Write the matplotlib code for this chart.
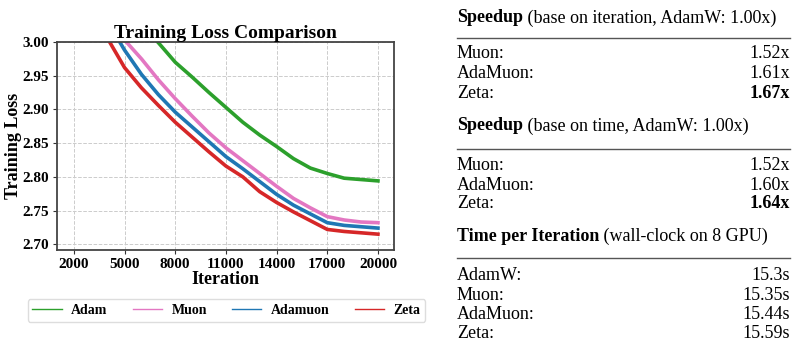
import matplotlib
matplotlib.use("Agg")
import matplotlib.pyplot as plt

plt.rcParams['font.family'] = ['Liberation Serif', 'DejaVu Serif']

# loss curves, one value per 1000 iterations
iters = [1000, 2000, 3000, 4000, 5000, 6000, 7000, 8000, 9000, 10000,
         11000, 12000, 13000, 14000, 15000, 16000, 17000, 18000, 19000, 20000]
adam_loss = [3.45, 3.27, 3.18, 3.11, 3.06, 3.025, 2.999, 2.970, 2.948, 2.925,
             2.903, 2.881, 2.862, 2.845, 2.827, 2.813, 2.805, 2.798, 2.796, 2.794]
muon_loss = [3.38, 3.20, 3.11, 3.05, 3.003, 2.975, 2.944, 2.916, 2.890, 2.865,
             2.843, 2.824, 2.805, 2.786, 2.768, 2.754, 2.741, 2.736, 2.733, 2.732]
adamuon_loss = [3.36, 3.18, 3.09, 3.03, 2.988, 2.952, 2.922, 2.896, 2.874, 2.852,
                2.830, 2.812, 2.793, 2.774, 2.758, 2.745, 2.732, 2.728, 2.726, 2.724]
zeta_loss = [3.35, 3.16, 3.07, 3.005, 2.962, 2.932, 2.906, 2.881, 2.859, 2.837,
             2.816, 2.800, 2.778, 2.762, 2.748, 2.735, 2.722, 2.719, 2.717, 2.715]

series_names = ['Adam', 'Muon', 'Adamuon', 'Zeta']
series_colors = ['#2ca02c', '#e377c2', '#1f77b4', '#d62728']
x_ticks = [2000, 5000, 8000, 11000, 14000, 17000, 20000]
y_ticks = [2.70, 2.75, 2.80, 2.85, 2.90, 2.95, 3.00]

# side table
sections = [
    ('Speedup', ' (base on iteration, AdamW: 1.00x)',
     ['Muon:', 'AdaMuon:', 'Zeta:'], ['1.52x', '1.61x', '1.67x'], True),
    ('Speedup', ' (base on time, AdamW: 1.00x)',
     ['Muon:', 'AdaMuon:', 'Zeta:'], ['1.52x', '1.60x', '1.64x'], True),
    ('Time per Iteration', ' (wall-clock on 8 GPU)',
     ['AdamW:', 'Muon:', 'AdaMuon:', 'Zeta:'], ['15.3s', '15.35s', '15.44s', '15.59s'], False),
]

W, H = 797, 347
fig = plt.figure(figsize=(W / 100, H / 100), dpi=100)
ax = fig.add_axes([57 / W, 1 - 250 / H, 337 / W, 208 / H])

all_losses = [adam_loss, muon_loss, adamuon_loss, zeta_loss]
for name, col, loss in zip(series_names, series_colors, all_losses):
    ax.plot(iters, loss, color=col, lw=2.6, label=name)

ax.set_xlim(1000, 20950)
ax.set_ylim(2.6915, 3.0)
ax.set_xticks(x_ticks)
ax.set_yticks(y_ticks)
ax.set_yticklabels(['%.2f' % v for v in y_ticks])
ax.tick_params(labelsize=11, length=3, pad=3, color='#333333')
for lab in ax.get_xticklabels() + ax.get_yticklabels():
    lab.set_fontweight('bold')
ax.grid(True, linestyle='--', color='#cccccc', lw=0.7)
for sp in ax.spines.values():
    sp.set_color('#444444')
    sp.set_linewidth(1.3)
ax.set_title('Training Loss Comparison', fontsize=14, fontweight='bold', pad=1)
ax.set_xlabel('Iteration', fontsize=13, fontweight='bold', labelpad=0)
ax.set_ylabel('Training Loss', fontsize=13, fontweight='bold')
ax.yaxis.set_label_coords((22 - 57) / 337, 0.5)

leg = fig.legend(*ax.get_legend_handles_labels(), loc='center',
                 bbox_to_anchor=(226.5 / W, 1 - 310.5 / H),
                 ncol=4, prop={'weight': 'bold', 'size': 10},
                 handlelength=2.1, handletextpad=0.7, columnspacing=1.8,
                 borderpad=0.35, fancybox=True, framealpha=1, edgecolor='#dddddd')
for line in leg.get_lines():
    line.set_linewidth(1.0)


def fx(px):
    return px / W


def fy(py):
    return 1 - py / H


fs = 13
heading_y = [18, 126, 236.7]
rule_y = [38, 149, 258.3]
row_y = [[54, 74, 93.3], [165, 185, 204], [275.7, 295, 314.3, 333.3]]
left_px, right_px = 457, 790

fig.canvas.draw()
renderer = fig.canvas.get_renderer()
for (bold, rest, labels, vals, last_bold), hy, ry, rows in zip(sections, heading_y, rule_y, row_y):
    t = fig.text(fx(left_px), fy(hy), bold, fontsize=fs, fontweight='bold', va='center', ha='left')
    bb = t.get_window_extent(renderer)
    fig.text(bb.x1 / W, fy(hy), rest, fontsize=fs, va='center', ha='left')
    fig.add_artist(plt.Line2D([fx(left_px), fx(right_px)], [fy(ry), fy(ry)],
                              transform=fig.transFigure, color='#555555', lw=1.0))
    for i, (lab, val) in enumerate(zip(labels, vals)):
        fig.text(fx(left_px), fy(rows[i]), lab, fontsize=fs, va='center', ha='left')
        w = 'bold' if (last_bold and i == len(labels) - 1) else 'normal'
        fig.text(fx(right_px), fy(rows[i]), val, fontsize=fs, va='center', ha='right', fontweight=w)

fig.savefig('out.png', dpi=100)
